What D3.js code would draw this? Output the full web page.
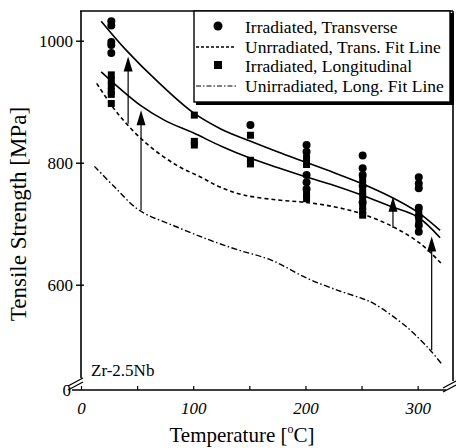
<!DOCTYPE html>
<html>
<head>
<meta charset="utf-8">
<script src="https://cdn.jsdelivr.net/npm/d3@7"></script>
<style>
  body { margin: 0; background: #fff; }
  svg { display: block; }
  text { font-family: "Liberation Serif", "Times New Roman", serif; fill: #000; }
</style>
</head>
<body>
<svg id="chart" width="456" height="448"></svg>
<script>
// Axis ticks
const xTicks = [0, 50, 100, 150, 200, 250, 300];
const xTickLabels = ["0", "", "100", "", "200", "", "300"];
const yTicks = [600, 800, 1000];
const yTickLabels = ["600", "800", "1000"];

// Irradiated, transverse specimens (temperature °C, strength MPa)
const transverseT = [27, 27, 27, 27, 27, 151, 201, 201, 201, 201, 201, 251, 251, 251, 251, 251, 301, 301, 301, 301, 301, 301, 301];
const transverseS = [1032, 1025, 998, 993, 980, 862, 829, 818, 780, 768, 757, 812, 791, 780, 762, 735, 776, 766, 758, 726, 712, 697, 687];

// Irradiated, longitudinal specimens
const longitudinalT = [27, 27, 27, 27, 27, 27, 101, 101, 101, 151, 151, 151, 201, 201, 201, 201, 251, 251, 251, 251, 251, 251, 301, 301];
const longitudinalS = [944, 935, 926, 917, 912, 897, 878, 835, 829, 845, 804, 798, 808, 797, 748, 741, 772, 752, 745, 728, 720, 714, 719, 705];

// Fit lines
const irrTransFitT = [18, 40, 70, 100, 125, 150, 175, 200, 225, 250, 275, 300, 320];
const irrTransFitS = [1032, 985, 930, 882, 855, 836, 818, 801, 784, 766, 745, 719, 689];
const irrLongFitT = [18, 35, 53, 75, 100, 125, 150, 175, 200, 225, 250, 275, 300, 320];
const irrLongFitS = [949, 921, 894, 869, 849, 827, 808, 792, 777, 763, 747, 729, 711, 677];
const unirrTransFitT = [14, 33, 58, 85, 106, 124, 145, 175, 200, 225, 249, 278, 302, 321];
const unirrTransFitS = [930, 880, 832, 796, 777, 760, 747, 739, 735, 728, 717, 695, 668, 635];
const unirrLongFitT = [12, 30, 52, 85, 115, 140, 170, 201, 230, 251, 261, 290, 311, 321];
const unirrLongFitS = [794, 760, 722, 695, 673, 657, 640, 611, 590, 577, 569, 531, 493, 471];

// Irradiation shift arrows
const arrowT = [42, 53.5, 278, 312.5];
const arrowFrom = [864, 722, 693, 493];
const arrowTo = [974, 886, 744, 679];

const legendLabels = [
  "Irradiated, Transverse",
  "Unrradiated, Trans. Fit Line",
  "Irradiated, Longitudinal",
  "Unirradiated, Long. Fit Line"
];

const svg = d3.select("#chart");
const x = d3.scaleLinear().domain([0, 331.5]).range([81, 453]);
const y = d3.scaleLinear().domain([427.4, 1048.7]).range([390, 11]);

const zip = (a, b) => a.map((v, i) => [v, b[i]]);
const line = d3.line().x(d => x(d[0])).y(d => y(d[1])).curve(d3.curveCatmullRom);

// Frame
const frame = svg.append("g").attr("stroke", "#000").attr("fill", "none");
frame.append("line").attr("x1", 81).attr("x2", 81).attr("y1", 11).attr("y2", 378).attr("stroke-width", 1.6);
frame.append("line").attr("x1", 80).attr("x2", 453).attr("y1", 11).attr("y2", 11).attr("stroke-width", 1.6);
frame.append("line").attr("x1", 453).attr("x2", 453).attr("y1", 11).attr("y2", 381).attr("stroke-width", 1.6);
frame.append("line").attr("x1", 72).attr("x2", 446).attr("y1", 390).attr("y2", 390).attr("stroke-width", 1.6);
// Axis break marks
[[68, 390, 83, 382], [68, 386, 83, 378], [443, 392, 456, 385], [443, 388, 456, 381]].forEach(b => {
  frame.append("line").attr("x1", b[0]).attr("y1", b[1]).attr("x2", b[2]).attr("y2", b[3]).attr("stroke-width", 1.3);
});

// X axis
const xAxis = svg.append("g").attr("transform", "translate(0,390)")
  .call(d3.axisBottom(x).tickValues(xTicks).tickSizeInner(-4).tickSizeOuter(0).tickPadding(12)
    .tickFormat((d, i) => xTickLabels[i]));
xAxis.select(".domain").remove();
xAxis.selectAll(".tick line").attr("stroke", "#000").attr("stroke-width", 1.2);
xAxis.selectAll(".tick text").attr("font-size", 17).attr("font-style", "italic")
  .attr("font-family", "Liberation Serif, Times New Roman, serif");

// Y axis
const yAxis = svg.append("g").attr("transform", "translate(81,0)")
  .call(d3.axisLeft(y).tickValues(yTicks).tickSize(5).tickPadding(3)
    .tickFormat((d, i) => yTickLabels[i]));
yAxis.select(".domain").remove();
yAxis.selectAll(".tick line").attr("stroke", "#000").attr("stroke-width", 1.4).attr("x2", -5).attr("x1", 3);
yAxis.selectAll(".tick text").attr("font-size", 17)
  .attr("font-family", "Liberation Serif, Times New Roman, serif");

// Broken-axis origin label
svg.append("text").attr("x", 71).attr("y", 396).attr("text-anchor", "end").attr("font-size", 17).text("0");

// Axis titles
svg.append("text").attr("x", 242).attr("y", 442).attr("text-anchor", "middle").attr("font-size", 21)
  .call(t => {
    t.append("tspan").text("Temperature [");
    t.append("tspan").attr("font-size", 12).attr("dy", -9).text("o");
    t.append("tspan").attr("dy", 9).text("C]");
  });
svg.append("text").attr("transform", "translate(26,214) rotate(-90)").attr("text-anchor", "middle")
  .attr("font-size", 23).text("Tensile Strength [MPa]");

svg.append("text").attr("x", 91).attr("y", 376).attr("font-size", 17).text("Zr-2.5Nb");

// Fit lines
const fits = svg.append("g").attr("fill", "none").attr("stroke", "#000");
fits.append("path").attr("d", line(zip(irrTransFitT, irrTransFitS))).attr("stroke-width", 1.6);
fits.append("path").attr("d", line(zip(irrLongFitT, irrLongFitS))).attr("stroke-width", 1.6);
fits.append("path").attr("d", line(zip(unirrTransFitT, unirrTransFitS))).attr("stroke-width", 1.6)
  .attr("stroke-dasharray", "4,3");
fits.append("path").attr("d", line(zip(unirrLongFitT, unirrLongFitS))).attr("stroke-width", 1.4)
  .attr("stroke-dasharray", "6,2.5,1.5,2.5");

// Arrows
const arrows = svg.append("g");
arrowT.forEach((t, i) => {
  const ax = x(t), y0 = y(arrowFrom[i]), y1 = y(arrowTo[i]);
  arrows.append("line").attr("x1", ax).attr("x2", ax).attr("y1", y0).attr("y2", y1 + 12)
    .attr("stroke", "#000").attr("stroke-width", 1.2);
  arrows.append("path").attr("d", `M${ax},${y1} L${ax - 4.5},${y1 + 15} L${ax + 4.5},${y1 + 15} Z`).attr("fill", "#000");
});

// Data points
svg.append("g").selectAll("circle").data(zip(transverseT, transverseS)).join("circle")
  .attr("cx", d => x(d[0])).attr("cy", d => y(d[1])).attr("r", 4).attr("fill", "#000");
svg.append("g").selectAll("rect").data(zip(longitudinalT, longitudinalS)).join("rect")
  .attr("x", d => x(d[0]) - 3.5).attr("y", d => y(d[1]) - 3.5).attr("width", 7).attr("height", 7).attr("fill", "#000");

// Legend
const lg = svg.append("g");
lg.append("rect").attr("x", 196).attr("y", 13).attr("width", 258).attr("height", 92).attr("fill", "#000");
lg.append("rect").attr("x", 194).attr("y", 11).attr("width", 256).attr("height", 91)
  .attr("fill", "#fff").attr("stroke", "#000").attr("stroke-width", 1.4);
const rowBase = [33, 53, 72, 92];
lg.append("circle").attr("cx", 218).attr("cy", rowBase[0] - 7).attr("r", 4.5).attr("fill", "#000");
lg.append("line").attr("x1", 196).attr("x2", 234).attr("y1", rowBase[1] - 6).attr("y2", rowBase[1] - 6)
  .attr("stroke", "#000").attr("stroke-width", 1.3).attr("stroke-dasharray", "3,2");
lg.append("rect").attr("x", 214).attr("y", rowBase[2] - 11).attr("width", 8).attr("height", 8).attr("fill", "#000");
lg.append("line").attr("x1", 196).attr("x2", 237).attr("y1", rowBase[3] - 6).attr("y2", rowBase[3] - 6)
  .attr("stroke", "#000").attr("stroke-width", 1.2).attr("stroke-dasharray", "5,2,1.5,2");
legendLabels.forEach((s, i) => {
  lg.append("text").attr("x", 245).attr("y", rowBase[i]).attr("font-size", 17.5).text(s);
});
</script>
</body>
</html>
